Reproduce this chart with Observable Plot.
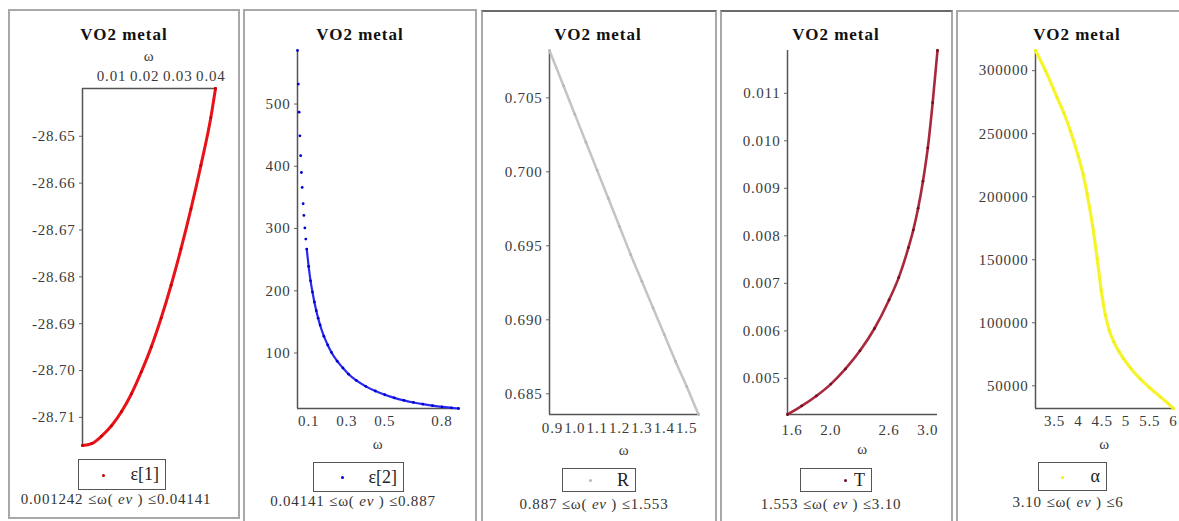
<!DOCTYPE html>
<html><head><meta charset="utf-8">
<script src="https://cdn.jsdelivr.net/npm/d3@7"></script>
<script src="https://cdn.jsdelivr.net/npm/@observablehq/plot@0.6"></script>
<style>
body{margin:0;background:#fff;}
#root{position:relative;width:1179px;height:521px;overflow:hidden;font-family:"Liberation Serif",serif;color:#222;}
.frame{position:absolute;border:2px solid #a8a8a8;box-sizing:border-box;}
.title{position:absolute;font-weight:bold;font-size:17px;line-height:17px;letter-spacing:1px;transform:translateX(-50%);white-space:nowrap;color:#111;}
.legend{position:absolute;border:1.5px solid #555;box-sizing:border-box;}
.legend .sym{position:absolute;width:3px;height:3px;border-radius:50%;}
.legend .lab{position:absolute;right:6px;top:0;bottom:0;display:flex;align-items:center;font-size:18px;color:#222;}
.caption{position:absolute;font-size:15px;line-height:15px;transform:translateX(-50%);white-space:nowrap;letter-spacing:0.8px;color:#333;}
.caption i{font-style:italic;}
svg.plotsvg{position:absolute;}
</style>
</head><body><div id="root"></div>
<script>
// ---- data ----
const title = "VO2 metal";
const axisLabel = "ω";

// Panel 1: eps[1]
const w1 = [0.001242, 0.004, 0.007, 0.010, 0.013, 0.016, 0.019, 0.022, 0.025, 0.028, 0.031, 0.034, 0.037, 0.040, 0.04141];
const eps1 = [-28.7160, -28.7156, -28.7140, -28.7118, -28.7088, -28.7050, -28.7003, -28.6950, -28.6888, -28.6818, -28.6740, -28.6655, -28.6562, -28.6460, -28.6398];
const xTicks1 = [0.01, 0.02, 0.03, 0.04];
const yTicks1 = [-28.65, -28.66, -28.67, -28.68, -28.69, -28.70, -28.71];

// Panel 2: eps[2]
const w2 = [0.0414, 0.0456, 0.0498, 0.054, 0.058, 0.062, 0.066, 0.071, 0.075, 0.080, 0.085, 0.090, 0.100, 0.110, 0.120, 0.130, 0.140, 0.150, 0.160, 0.180, 0.200, 0.220, 0.250, 0.280, 0.310, 0.350, 0.400, 0.450, 0.500, 0.550, 0.600, 0.650, 0.700, 0.750, 0.800, 0.850, 0.887];
const eps2 = [586, 532, 487, 449, 417, 390, 366, 340, 321, 301, 283, 267, 239, 216, 198, 182, 168, 156, 145, 127, 113, 101, 87, 76, 66, 56, 46.5, 39, 33, 28, 24, 20.6, 17.9, 15.6, 13.6, 12.0, 10.9];
const xTicks2 = [0.1, 0.3, 0.5, 0.8];
const yTicks2 = [100, 200, 300, 400, 500];

// Panel 3: R
const w3 = [0.887, 0.95, 1.0, 1.05, 1.1, 1.15, 1.2, 1.25, 1.3, 1.35, 1.4, 1.45, 1.5, 1.553];
const R = [0.7082, 0.7058, 0.7039, 0.7020, 0.7001, 0.6982, 0.6963, 0.6944, 0.6926, 0.6908, 0.6890, 0.6872, 0.6855, 0.6836];
const xTicks3 = [0.9, 1.0, 1.1, 1.2, 1.3, 1.4, 1.5];
const yTicks3 = [0.685, 0.690, 0.695, 0.700, 0.705];

// Panel 4: T
const w4 = [1.553, 1.70, 1.85, 2.00, 2.15, 2.30, 2.45, 2.60, 2.70, 2.80, 2.85, 2.90, 2.95, 3.00, 3.05, 3.10];
const T = [0.00424, 0.00442, 0.00463, 0.00488, 0.00520, 0.00558, 0.00605, 0.00665, 0.00712, 0.00775, 0.00812, 0.00858, 0.00915, 0.00985, 0.01080, 0.01190];
const xTicks4 = [1.6, 2.0, 2.6, 3.0];
const yTicks4 = [0.005, 0.006, 0.007, 0.008, 0.009, 0.010, 0.011];

// Panel 5: alpha
const w5 = [3.10, 3.31, 3.55, 3.70, 3.835, 4.00, 4.10, 4.186, 4.30, 4.396, 4.48, 4.57, 4.65, 4.75, 4.85, 4.95, 5.10, 5.30, 5.50, 5.73, 5.90, 6.00];
const alpha = [316000, 300000, 279000, 266000, 252000, 232000, 218000, 202000, 177000, 151000, 126000, 106000, 94000, 84500, 77500, 71500, 64000, 55500, 48500, 41000, 35500, 32000];
const xTicks5 = [3.5, 4, 4.5, 5, 5.5, 6];
const yTicks5 = [50000, 100000, 150000, 200000, 250000, 300000];

const legendLabels = ["ε[1]", "ε[2]", "R", "T", "α"];
const rangeLo = ["0.001242", "0.04141", "0.887", "1.553", "3.10"];
const rangeHi = ["0.04141", "0.887", "1.553", "3.10", "6"];

// ---- layout / style (not data) ----
const panels = [
  {x:w1, y:eps1, xt:xTicks1, yt:yTicks1, xf:d=>d.toFixed(2), yf:d=>d.toFixed(2), top:true,
   frame:[8,9,232,510], svg:[10,42,228,430], m:[46,23,27,72], tc:124,
   leg:[78,459,88,31], dot:[103,475], cap:[116,492], line:"#e8121a", lw:3, dc:"#c80000", xpad:7.5, lab:38},
  {x:w2, y:eps2, xt:xTicks2, yt:yTicks2, xf:d=>String(d), yf:d=>String(d), top:false,
   frame:[243,9,234,530], svg:[246,42,229,430], m:[8,17,64,51], tc:360,
   leg:[313,462,91,30], dot:[342,477], cap:[353,494], line:"#2828f0", lw:2.2, dc:"#0000d0", xpad:7, lab:40, lineFrom:0.09},
  {x:w3, y:R, xt:xTicks3, yt:yTicks3, xf:d=>d.toFixed(1), yf:d=>d.toFixed(3), top:false,
   frame:[481,10,236,530], svg:[484,42,230,430], m:[8,16,58,65], tc:598,
   leg:[562,468,74,24], dot:[590,480], cap:[594,497], line:"#c4c4c4", lw:2.5, dc:"#b8b8b8", xpad:8, lab:40},
  {x:w4, y:T, xt:xTicks4, yt:yTicks4, xf:d=>d.toFixed(1), yf:d=>d.toFixed(3), top:false,
   frame:[720,10,233,530], svg:[722,42,229,430], m:[8,14,58,65], tc:836,
   leg:[800,468,72,24], dot:[845,480], cap:[831,497], line:"#a8283c", lw:2.6, dc:"#6e1020", xpad:10, lab:39},
  {x:w5, y:alpha, xt:xTicks5, yt:yTicks5, xf:d=>String(d), yf:d=>String(d), top:false,
   frame:[956,10,245,530], svg:[958,42,219,430], m:[8,4,64,77], tc:1077,
   leg:[1038,462,69,29], dot:[1062,477], cap:[1068,495], line:"#f6f42a", lw:3.2, dc:"#eeee20", xpad:7, lab:40}
];

const root = document.getElementById("root");
function el(tag, cls, css, html) {
  const e = document.createElement(tag);
  if (cls) e.className = cls;
  Object.assign(e.style, css || {});
  if (html != null) e.innerHTML = html;
  root.appendChild(e);
  return e;
}

panels.forEach((p, i) => {
  const [fx, fy, fw, fh] = p.frame;
  el("div", "frame", {left:fx+"px", top:fy+"px", width:fw+"px", height:fh+"px",
    borderTopColor: (i===2||i===3) ? "#6a6a6a" : "#a8a8a8"});
  el("div", "title", {left:p.tc+"px", top:"26px"}, title);

  const data = p.x.map((x, k) => ({x, y: p.y[k]}));
  const xd = d3.extent(p.x), yd = d3.extent(p.y);
  const lineData = p.lineFrom ? data.filter(d => d.x >= p.lineFrom) : data;
  const [mt, mr, mb, ml] = p.m;
  const svg = Plot.plot({
    width: p.svg[2], height: p.svg[3],
    marginTop: mt, marginRight: mr, marginBottom: mb, marginLeft: ml,
    style: {fontFamily: "Liberation Serif", fontSize: "15px", color: "#3a3a3a", background: "none", overflow: "visible", letterSpacing: "0.8px"},
    x: {domain: xd},
    y: {domain: yd},
    marks: [
      Plot.axisY({ticks: p.yt, tickFormat: p.yf, tickSize: 3, tickPadding: 4, label: null, stroke: "#666"}),
      Plot.axisX({anchor: p.top ? "top" : "bottom", ticks: p.xt, tickFormat: p.xf, tickSize: 0, tickPadding: p.xpad,
        label: axisLabel, labelAnchor: "center", labelArrow: "none", labelOffset: p.lab}),
      Plot.ruleX([xd[0]], {stroke: "#555", strokeWidth: 1.5}),
      Plot.ruleY([p.top ? yd[1] : yd[0]], {stroke: "#555", strokeWidth: 1.5}),
      Plot.line(lineData, {x: "x", y: "y", stroke: p.line, strokeWidth: p.lw, curve: "monotone-x"}),
      Plot.dot(data, {x: "x", y: "y", r: 1.4, fill: p.dc, stroke: "none"})
    ]
  });
  svg.classList.add("plotsvg");
  svg.style.left = p.svg[0] + "px";
  svg.style.top = p.svg[1] + "px";
  root.appendChild(svg);

  const [lx, ly, lw, lh] = p.leg;
  const lg = el("div", "legend", {left:lx+"px", top:ly+"px", width:lw+"px", height:lh+"px"});
  const s = document.createElement("div"); s.className = "sym";
  Object.assign(s.style, {left:(p.dot[0]-lx-2)+"px", top:(p.dot[1]-ly-2)+"px", background:p.dc});
  lg.appendChild(s);
  const t = document.createElement("div"); t.className = "lab"; t.textContent = legendLabels[i];
  lg.appendChild(t);

  el("div", "caption", {left:p.cap[0]+"px", top:p.cap[1]+"px"},
    rangeLo[i] + " ≤ω( <i>ev</i> ) ≤" + rangeHi[i]);
});
</script>
</body></html>
